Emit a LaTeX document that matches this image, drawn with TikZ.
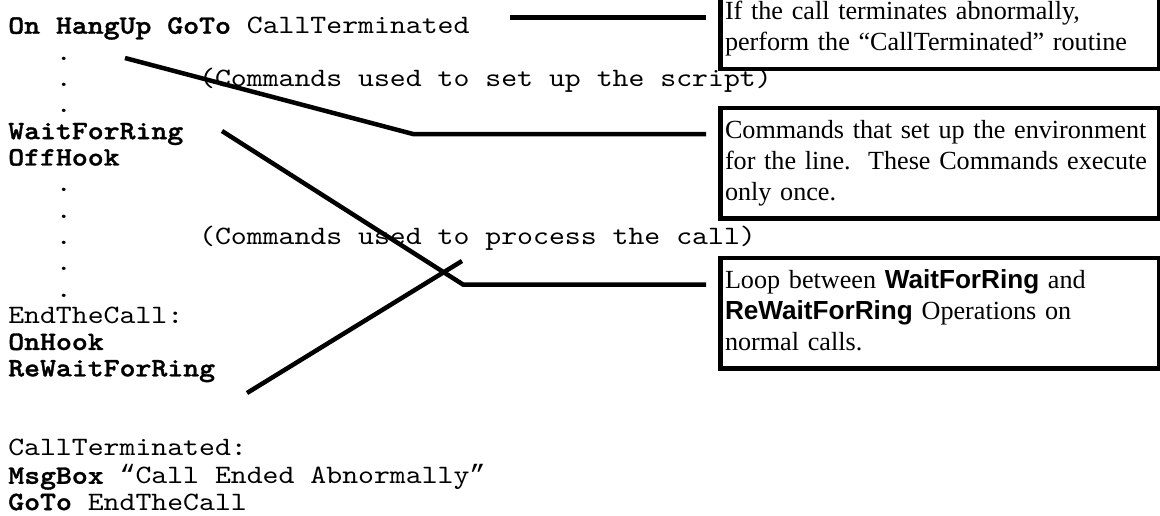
\documentclass[tikz,border=0pt]{standalone}
\usepackage{fontspec}
\setmainfont{Liberation Serif}
\newfontfamily\codefont{lmmono10-regular}[Extension=.otf, BoldFont=lmmonolt10-bold, BoldFeatures={FakeBold=1.3}, FakeStretch=1.143]
\newfontfamily\quotefont{Liberation Mono}
\newfontfamily\notesans{Liberation Sans}
\hyphenpenalty=10000
\newcommand\cols[1]{\hphantom{#1}}

\begin{document}
\begin{tikzpicture}[
  x=0.025cm, y=-0.025cm,
  code/.style={anchor=north west, inner sep=0pt, align=left, font=\codefont\fontsize{18.85pt}{18.74pt}\selectfont},
  note/.style={draw, line width=3.2pt, outer sep=0pt, anchor=north west, inner xsep=3.2pt, inner ysep=6.4pt, text width=10.75cm, align=left, font=\fontsize{18.6pt}{21.9pt}\selectfont},
  lead/.style={line width=3.2pt},
]
\useasboundingbox (0,0) rectangle (1160,515);

% the script
\node[code] (setup) at (8,15) {\strut\textbf{On HangUp GoTo} CallTerminated\\
\cols{000}.\\
\cols{000}.\cols{00000000}(Commands used to set up the script)\\
\cols{000}.\\
\textbf{WaitForRing}\\
\textbf{OffHook}\\
\cols{000}.\\
\cols{000}.\\
\cols{000}.\cols{00000000}(Commands used to process the call)\\
\cols{000}.\\
\cols{000}.\\
EndTheCall:\\
\textbf{OnHook}\\
\textbf{ReWaitForRing}};
\node[code] (handler) at (8,436.5) {\strut CallTerminated:\\
\textbf{MsgBox} {\quotefont“}Call Ended Abnormally{\quotefont”}\\
\textbf{GoTo} EndTheCall};

% the notes
\node[note, anchor=south west] (terminated) at (720.5,69) {\strut If the call terminates abnormally,\\
perform the “CallTerminated” routine\strut};
\node[note] (environment) at (720.5,108) {\strut Commands that set up the environment\\
for the line.\ \ These Commands execute\\
only once.\strut};
\node[note] (loop) at (720.5,258) {\strut Loop between {\notesans\bfseries WaitForRing} and\\
{\notesans\bfseries ReWaitForRing} Operations on\\
normal calls.\strut};

% leaders
\coordinate (hangend) at (510,17.5);
\coordinate (dotsend) at (125,58);
\coordinate (setbend) at (413,134);
\coordinate (waitend) at (222,131);
\coordinate (loopbend) at (463,284.5);
\coordinate (rewaitend) at (247,393);
\coordinate (rewaittip) at (462,261);

\draw[lead, shorten >=0.36cm] (hangend) -- (hangend -| terminated.west);
\draw[lead, shorten >=0.36cm] (dotsend) -- (setbend) -- (setbend -| environment.west);
\draw[lead, shorten >=0.36cm] (waitend) -- (loopbend) -- (loopbend -| loop.west);
\draw[lead] (rewaitend) -- (rewaittip);
\end{tikzpicture}
\end{document}
